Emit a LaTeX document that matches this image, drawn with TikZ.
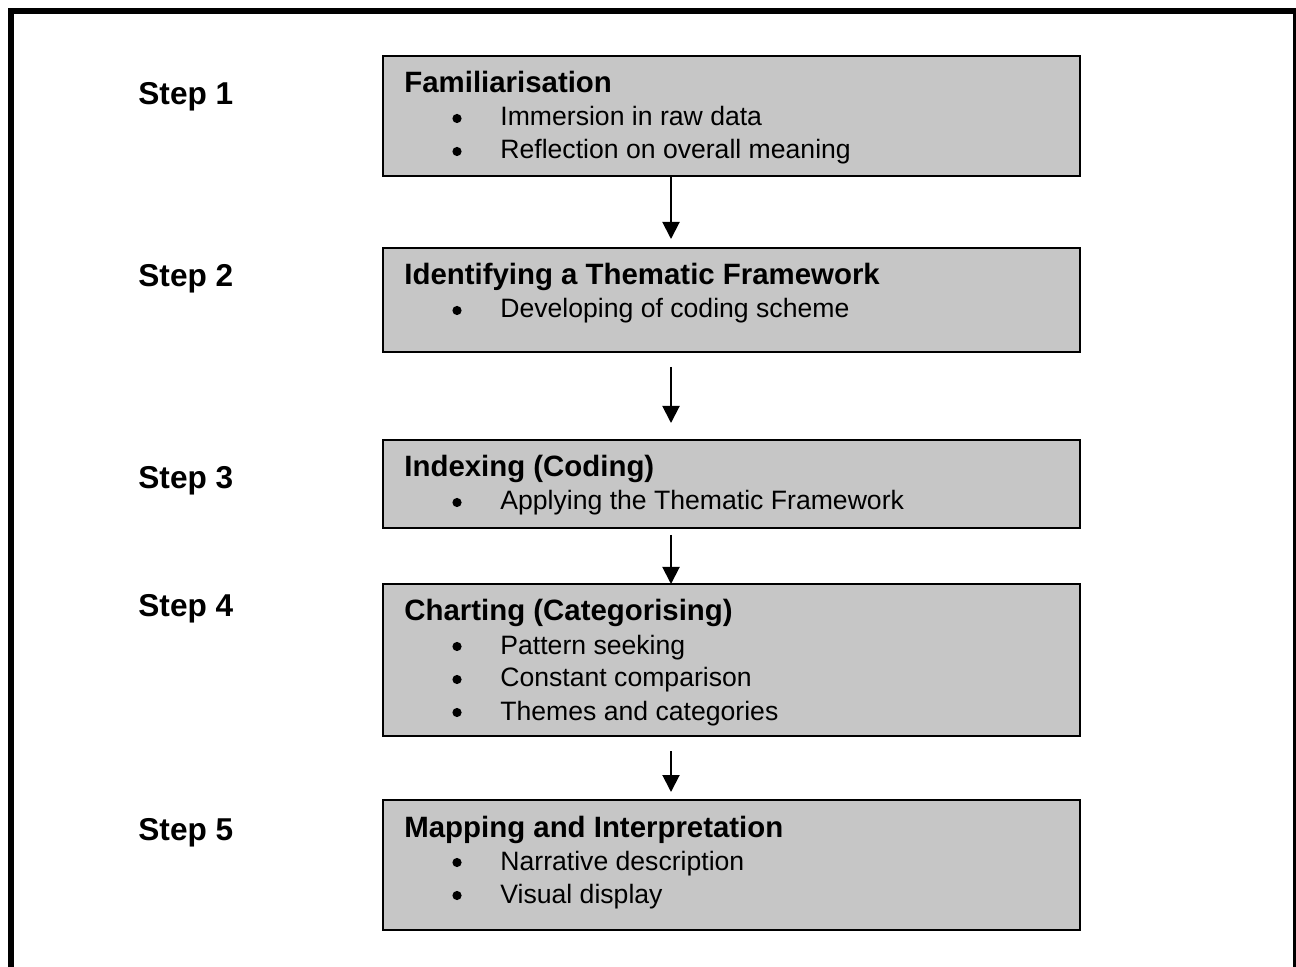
\documentclass[tikz,border=0pt]{standalone}
\usepackage{fontspec}
\setmainfont{Liberation Sans}
\usetikzlibrary{arrows.meta}
\definecolor{boxgray}{RGB}{198,198,198}

% one bulleted line inside a box: name, baseline, text
\newcommand\flowitem[3]{%
  \node[itemdot] (#1-dot) at (457,#2-7.5) {};
  \node[itemtext] (#1) at (500,#2) {#3};
}

\begin{document}
\begin{tikzpicture}[x=0.5pt,y=-0.5pt,
  stepbox/.style={draw=black, line width=1pt, fill=boxgray, anchor=north west,
    inner sep=0pt, outer sep=0pt, minimum width=348.5pt},
  boxtitle/.style={font=\fontsize{14.7}{16}\selectfont\bfseries, anchor=base west, inner sep=0pt},
  itemtext/.style={font=\fontsize{13.3}{15}\selectfont, anchor=base west, inner sep=0pt},
  itemdot/.style={circle, fill=black, inner sep=0pt, minimum size=4.6pt},
  steplabel/.style={font=\fontsize{15.8}{18}\selectfont\bfseries, anchor=base west, inner sep=0pt},
  flowarrow/.style={line width=1pt, -{Triangle[width=8.5pt,length=8.5pt]}},
]
\useasboundingbox (0,0) rectangle (1296,967);

% outer frame, open at the bottom
\draw[line width=3pt, line join=miter] (11,1000) -- (11,11) -- (1296,11) -- (1296,1000);

% step labels
\node[steplabel] (s1) at (138,105) {Step 1};
\node[steplabel] (s2) at (138,287) {Step 2};
\node[steplabel] (s3) at (138,489) {Step 3};
\node[steplabel] (s4) at (138,617) {Step 4};
\node[steplabel] (s5) at (138,840) {Step 5};

% boxes
\node[stepbox, minimum height=60pt] (b1) at (383,56) {};
\node[stepbox, minimum height=52pt] (b2) at (383,248) {};
\node[stepbox, minimum height=44pt] (b3) at (383,440) {};
\node[stepbox, minimum height=76pt] (b4) at (383,584) {};
\node[stepbox, minimum height=65pt] (b5) at (383,800) {};

% box contents
\node[boxtitle] (t1) at (404,93) {Familiarisation};
\flowitem{i11}{126}{Immersion in raw data}
\flowitem{i12}{159}{Reflection on overall meaning}

\node[boxtitle] (t2) at (404,285) {Identifying a Thematic Framework};
\flowitem{i21}{318}{Developing of coding scheme}

\node[boxtitle] (t3) at (404,477) {Indexing (Coding)};
\flowitem{i31}{510}{Applying the Thematic Framework}

\node[boxtitle] (t4) at (404,621) {Charting (Categorising)};
\flowitem{i41}{654}{Pattern seeking}
\flowitem{i42}{687}{Constant comparison}
\flowitem{i43}{720}{Themes and categories}

\node[boxtitle] (t5) at (404,837) {Mapping and Interpretation};
\flowitem{i51}{870}{Narrative description}
\flowitem{i52}{903}{Visual display}

% arrows between the boxes
\coordinate (ax) at (671,0);
\draw[flowarrow, shorten >=4.5pt] (b1.south -| ax) -- (b2.north -| ax);
\draw[flowarrow, shorten <=7.5pt, shorten >=8.5pt] (b2.south -| ax) -- (b3.north -| ax);
\draw[flowarrow, shorten <=3.5pt] (b3.south -| ax) -- (b4.north -| ax);
\draw[flowarrow, shorten <=7.5pt, shorten >=4pt] (b4.south -| ax) -- (b5.north -| ax);
\end{tikzpicture}
\end{document}
